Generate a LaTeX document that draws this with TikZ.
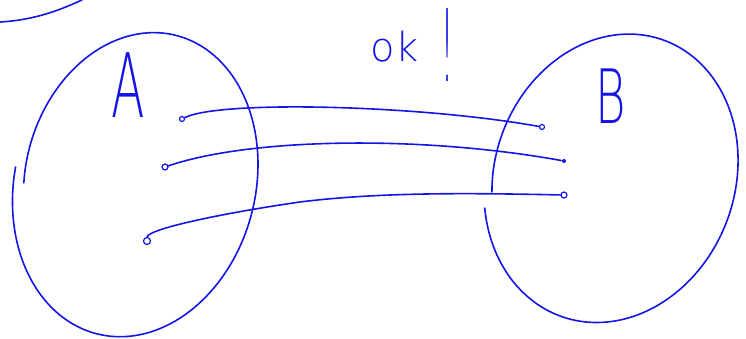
\documentclass[tikz,border=0pt]{standalone}
\usepackage{fontspec}
\newfontfamily\penfont{DejaVu Sans ExtraLight}
\definecolor{penblue}{HTML}{1414E6}

\begin{document}
\begin{tikzpicture}[x=1pt, y=-1pt, line width=1.6pt, color=penblue, line cap=round]
        \useasboundingbox (0,0) rectangle (746,339);
        \draw (0,22) .. controls (35,20) and (60,10) .. (82,0);
        % set A, drawn as a tilted loop that does not close
        \draw plot[domain=275.7:641.6, samples=90, variable=\t, smooth]
            ({136 + (1-0.085*((\t-275.7)/365.9)^3)*(-0.25*157*cos(\t) + 0.968*121*sin(\t))},
             {182 + (1-0.085*((\t-275.7)/365.9)^3)*(0.968*157*cos(\t) + 0.25*121*sin(\t))});
        % set B
        \draw plot[domain=293.4:-60.7, samples=90, variable=\t, smooth]
            ({613 + (1+0.000178*(293.4-\t))*(-0.342*142*cos(\t) + 0.94*118*sin(\t))},
             {176 + (1+0.000178*(293.4-\t))*(0.94*142*cos(\t) + 0.342*118*sin(\t))});
        \node[inner sep=0pt, font=\penfont\fontsize{89}{89}\selectfont] (labA) at (128,85) {\scalebox{0.55}[1]{A}};
        \node[inner sep=0pt, font=\penfont\fontsize{75}{75}\selectfont] (labB) at (611,96) {\scalebox{0.62}[1]{B}};
        \node[inner sep=0pt, anchor=base west, font=\penfont\fontsize{40}{40}\selectfont] (ok) at (370,62) {ok\hspace{22pt}\raisebox{-20pt}{\fontsize{100}{100}\selectfont\scalebox{0.35}[1]{!}}};
        \node[draw, circle, inner sep=0pt, minimum size=5pt, line width=1.2pt] (a1) at (182,119) {};
        \node[draw, circle, inner sep=0pt, minimum size=6pt, line width=1.2pt] (a2) at (165,167) {};
        \node[draw, circle, inner sep=0pt, minimum size=7pt, line width=1.2pt] (a3) at (147,241) {};
        \node[draw, circle, inner sep=0pt, minimum size=5pt, line width=1.2pt] (b1) at (542,127) {};
        \node[fill, circle, inner sep=0pt, minimum size=4pt] (b2) at (564,161) {};
        \node[draw, circle, inner sep=0pt, minimum size=6pt, line width=1.2pt] (b3) at (564,195) {};
        \draw (a1) .. controls (220,100) and (420,105) .. (b1);
        \draw (a2) .. controls (250,138) and (420,135) .. (b2);
        \draw (a3.north) .. controls (150,228) and (230,212) .. (300,202) .. controls (380,192) and (470,193) .. (b3);
    \end{tikzpicture}
\end{document}
